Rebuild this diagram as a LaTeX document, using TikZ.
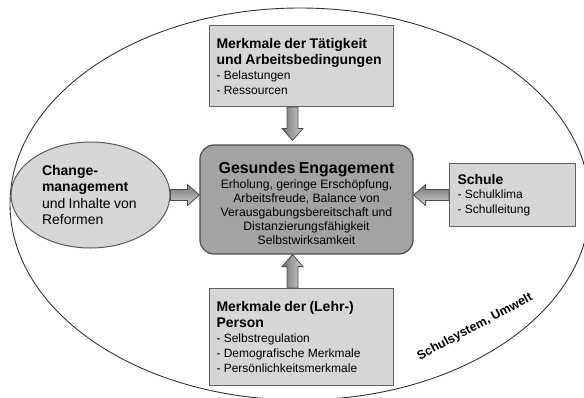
\documentclass[tikz,border=0pt]{standalone}
\usepackage{fontspec}
\setmainfont{Liberation Sans}
\usetikzlibrary{calc,shapes.geometric}
\begin{document}
\begin{tikzpicture}[x=1pt,y=-1pt,
  every node/.append style={execute at begin node={\setlength{\parskip}{0pt}}},
  box/.style={draw=black!62, line width=1pt, fill=black!16, inner sep=0pt,
    anchor=north west, align=left},
  engbox/.style={draw=black!70, line width=1.2pt, fill=black!36, rounded corners=14pt,
    inner sep=0pt, align=center, text width=211pt, minimum width=213pt, minimum height=109pt},
  chgell/.style={ellipse, draw=black!65, line width=1pt, fill=black!16, inner sep=0pt,
    minimum width=159pt, minimum height=106pt, align=left, text width=97pt},
  blk/.style={draw=black!70, line width=0.8pt, line join=miter,
    to path={($(\tikztostart)!5.5pt!90:(\tikztotarget)$)
      -- ($(\tikztotarget)!12pt!(\tikztostart)!5.5pt!90:(\tikztotarget)$)
      -- ($(\tikztotarget)!12pt!(\tikztostart)!10.5pt!90:(\tikztotarget)$)
      -- (\tikztotarget)
      -- ($(\tikztotarget)!12pt!(\tikztostart)!10.5pt!-90:(\tikztotarget)$)
      -- ($(\tikztotarget)!12pt!(\tikztostart)!5.5pt!-90:(\tikztotarget)$)
      -- ($(\tikztostart)!5.5pt!-90:(\tikztotarget)$) -- cycle}},
  vblk/.style={blk, left color=black!55, right color=black!18},
  hblk/.style={blk, top color=black!55, bottom color=black!18}
]
\useasboundingbox (0,0) rectangle (584,397);

% outer environment ellipse
\draw[black!80, line width=0.9pt] (300,204) ellipse [x radius=290, y radius=196];

% top box
\node[box, minimum width=184pt, minimum height=81pt, text width=170pt] (tb) at (209,25)
  {{\fontsize{14}{16}\selectfont\bfseries Merkmale der Tätigkeit\\und Arbeitsbedingungen\par}
   {\fontsize{12}{15}\selectfont - Belastungen\\- Ressourcen\par}\vspace{6pt}};

% centre box
\node[engbox] (eng) at (306.5,199.5)
  {{\fontsize{15.9}{17}\selectfont\bfseries\rule{0pt}{19pt}Gesundes Engagement\par}\vspace{1pt}
   {\fontsize{12.2}{14}\selectfont Erholung, geringe Erschöpfung,\\Arbeitsfreude, Balance von\\Verausgabungsbereitschaft und\\Distanzierungsfähigkeit\\Selbstwirksamkeit\par}};

% left ellipse
\node[chgell] (chg) at (90.5,195)
  {{\fontsize{14}{16.5}\selectfont\bfseries Change-\\management\par}
   {\fontsize{14}{16.5}\selectfont und Inhalte von\\Reformen\par}};

% right box
\node[box, minimum width=126pt, minimum height=63pt, text width=110pt] (sch) at (449,163)
  {{\fontsize{14}{16}\selectfont\bfseries Schule\par}
   {\fontsize{12}{14.5}\selectfont - Schulklima\\- Schulleitung\par}\vspace{7pt}};

% bottom box
\node[box, minimum width=184pt, minimum height=97pt, text width=170pt] (bb) at (209,288)
  {{\fontsize{14}{16}\selectfont\bfseries Merkmale der (Lehr-)\\Person\par}
   {\fontsize{12}{15}\selectfont - Selbstregulation\\- Demografische Merkmale\\- Persönlichkeitsmerkmale\par}\vspace{5pt}};

% environment label
\node[rotate=28, font=\fontsize{12.5}{15}\selectfont\bfseries] (env) at (475,327) {Schulsystem, Umwelt};

% arrows
\coordinate (ax) at (292.5,0);
\draw[vblk] (tb.south -| ax) to ($(eng.north -| ax)+(0,-4)$);
\draw[vblk] (bb.north -| ax) to (eng.south -| ax);
\draw[hblk] (chg.east) to (eng.west |- chg.east);
\draw[hblk] (sch.west) to (eng.east |- sch.west);
\end{tikzpicture}
\end{document}
